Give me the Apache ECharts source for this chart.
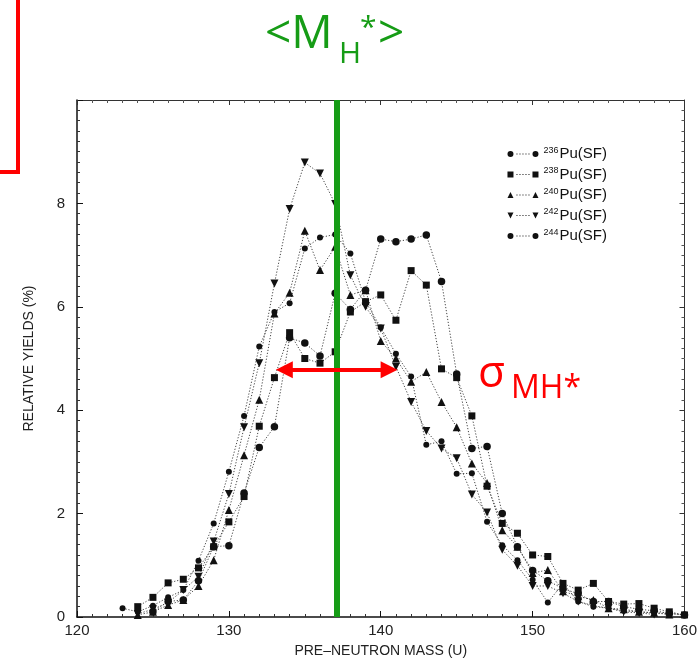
<!DOCTYPE html>
<html>
<head>
<meta charset="utf-8">
<script src="https://cdn.jsdelivr.net/npm/echarts@6/dist/echarts.min.js"></script>
<style>
  html, body { margin: 0; padding: 0; background: #fff; }
  #chart { width: 700px; height: 663px; }
</style>
</head>
<body>
<div id="chart"></div>
<script>
// Pre-neutron heavy-fragment mass yields for spontaneous fission of Pu isotopes
const masses = [123,124,125,126,127,128,129,130,131,132,133,134,135,136,137,138,139,140,141,
                142,143,144,145,146,147,148,149,150,151,152,153,154,155,156,157,158,159,160];

const pu236 = [0.17,0.10,0.22,0.38,0.52,1.09,1.81,2.81,3.89,5.23,5.90,6.07,7.13,7.34,7.40,7.03,6.10,5.60,5.09,
               4.65,3.33,3.40,2.77,2.78,1.84,1.39,1.10,0.72,0.28,0.65,0.30,0.20,0.17,0.12,0.10,0.08,0.07,0.04];
const pu238 = [null,0.20,0.38,0.66,0.73,0.95,1.36,1.84,2.33,3.69,4.63,5.50,5.00,4.91,5.13,5.90,6.10,6.23,5.74,
               6.70,6.42,4.80,4.63,3.89,2.53,1.81,1.62,1.20,1.17,0.65,0.52,0.65,0.30,0.25,0.26,0.17,0.10,0.04];
const pu240 = [null,0.04,0.10,0.23,0.33,0.60,1.10,2.07,3.13,4.20,5.87,6.27,7.47,6.71,7.16,6.23,6.32,5.34,5.00,
               4.55,4.74,4.16,3.67,2.97,2.59,1.68,1.36,0.85,0.91,0.50,0.40,0.33,0.17,0.15,0.10,0.08,0.05,null];
const pu242 = [null,0.06,0.15,0.28,0.52,0.78,1.46,2.38,3.67,4.91,6.45,7.89,8.79,8.58,7.99,6.61,6.00,5.58,4.84,
               4.16,3.60,3.26,3.07,2.37,2.02,1.30,0.99,0.60,0.60,0.46,0.30,0.22,0.17,0.10,0.08,0.05,null,null];
const pu244 = [null,null,0.10,0.30,0.33,0.70,1.36,1.38,2.40,3.28,3.68,5.40,5.30,5.05,6.26,5.95,6.32,7.31,7.26,
               7.31,7.39,6.49,4.70,3.26,3.30,2.00,1.36,0.90,0.70,0.55,0.45,0.30,0.30,0.20,0.15,0.12,0.07,0.04];

const seriesNames = ['236Pu(SF)','238Pu(SF)','240Pu(SF)','242Pu(SF)','244Pu(SF)'];
const xTicks = [120,130,140,150,160];
const yTicks = [0,2,4,6,8];

// Mean heavy-fragment mass and width marker
const meanHeavyMass = 137.1;
const widthHalfSpan = 3.45;
const widthLevel = 4.78;

const pairs = ys => masses.map((m, i) => [m, ys[i]]);

const dots = ' M9,2.6h1v0.8h-1z M12,2.6h1v0.8h-1z M15,2.6h1v0.8h-1z M18,2.6h1v0.8h-1z M21,2.6h1v0.8h-1z ';
const legendIcons = {
  circle: 'path://M0,3a3,3 0 1,0 6,0a3,3 0 1,0 -6,0z' + dots + 'M25,3a3,3 0 1,0 6,0a3,3 0 1,0 -6,0z',
  square: 'path://M0,0h6v6h-6z' + dots + 'M25,0h6v6h-6z',
  up:     'path://M0,6L3,0L6,6z' + dots + 'M25,6L28,0L31,6z',
  down:   'path://M0,0L6,0L3,6z' + dots + 'M25,0L31,0L28,6z'
};
const iconKinds = ['circle','square','up','down','circle'];

const ink = '#111';
const green = '#169c16';
const red = '#ff0000';

function curve(name, ys, symbol, size, rotate) {
  return {
    name, type: 'line', data: pairs(ys),
    symbol, symbolSize: size, symbolRotate: rotate || 0,
    connectNulls: false,
    itemStyle: { color: ink },
    lineStyle: { color: '#444', width: 1, type: [1.2, 1.8] },
    z: 3
  };
}

const series = [
  curve(seriesNames[0], pu236, 'circle', 6),
  curve(seriesNames[1], pu238, 'rect', 7),
  curve(seriesNames[2], pu240, 'triangle', 8),
  curve(seriesNames[3], pu242, 'triangle', 8, 180),
  curve(seriesNames[4], pu244, 'circle', 7.5),
  {
    name: 'marks', type: 'line', data: [], silent: true,
    markLine: {
      silent: true, animation: false,
      symbol: ['none', 'none'],
      data: [
        { xAxis: meanHeavyMass,
          lineStyle: { color: green, width: 6, type: 'solid' }, label: { show: false } },
        [ { coord: [meanHeavyMass - widthHalfSpan, widthLevel], symbol: 'triangle', symbolSize: 17 },
          { coord: [meanHeavyMass + widthHalfSpan, widthLevel], symbol: 'triangle', symbolSize: 17,
            lineStyle: { color: red, width: 4, type: 'solid' }, label: { show: false } } ]
      ],
      lineStyle: { color: red, width: 4, type: 'solid' },
      itemStyle: { color: red },
      label: { show: false }
    },
    z: 5
  }
];

const axisFont = 'Liberation Sans';

const chart = echarts.init(document.getElementById('chart'), null, { renderer: 'canvas' });
chart.setOption({
  animation: false,
  backgroundColor: '#fff',
  grid: { left: 77, right: 14, top: 100, bottom: 46 },
  legend: {
    orient: 'vertical', right: 88, top: 141, itemGap: 5,
    itemWidth: 31, itemHeight: 6,
    data: seriesNames.map((n, i) => ({ name: n, icon: legendIcons[iconKinds[i]] })),
    formatter: n => '{sup|' + n.slice(0, 3) + '}{txt|' + n.slice(3) + '}',
    textStyle: {
      color: '#111', fontFamily: axisFont,
      rich: {
        sup: { fontSize: 9, verticalAlign: 'top', padding: [0, 1, 7, 0], fontFamily: axisFont },
        txt: { fontSize: 15, fontFamily: axisFont }
      }
    },
    itemStyle: { color: ink }
  },
  xAxis: [
    {
      type: 'value', min: 120, max: 160, interval: 10, position: 'bottom',
      name: 'PRE\u2013NEUTRON MASS (U)', nameLocation: 'middle', nameGap: 27,
      nameTextStyle: { fontSize: 14, color: '#222', fontFamily: axisFont },
      axisLine: { show: true, onZero: false, lineStyle: { color: '#111', width: 1.5 } },
      axisTick: { inside: true, length: 6, lineStyle: { color: '#111' } },
      minorTick: { show: true, splitNumber: 10, length: 3, lineStyle: { color: '#333' } },
      axisLabel: { fontSize: 15, color: '#222', fontFamily: axisFont, margin: 6,
                   formatter: v => xTicks.includes(v) ? String(v) : '' },
      splitLine: { show: false }
    },
    {
      type: 'value', min: 120, max: 160, interval: 10, position: 'top',
      axisLine: { show: true, onZero: false, lineStyle: { color: '#333', width: 1 } },
      axisTick: { inside: true, length: 5, lineStyle: { color: '#333' } },
      minorTick: { show: true, splitNumber: 10, length: 3, lineStyle: { color: '#555' } },
      axisLabel: { show: false }, splitLine: { show: false }
    }
  ],
  yAxis: [
    {
      type: 'value', min: 0, max: 10, interval: 2, position: 'left',
      name: 'RELATIVE YIELDS (%)', nameLocation: 'middle', nameGap: 41,
      nameTextStyle: { fontSize: 14, color: '#222', fontFamily: axisFont },
      axisLine: { show: true, onZero: false, lineStyle: { color: '#111', width: 1.5 } },
      axisTick: { inside: true, length: 6, lineStyle: { color: '#111' } },
      minorTick: { show: true, splitNumber: 10, length: 3, lineStyle: { color: '#333' } },
      axisLabel: { fontSize: 15, color: '#222', fontFamily: axisFont, margin: 12,
                   formatter: v => yTicks.includes(v) ? String(v) : '' },
      splitLine: { show: false }
    },
    {
      type: 'value', min: 0, max: 10, interval: 2, position: 'right',
      axisLine: { show: true, onZero: false, lineStyle: { color: '#333', width: 1 } },
      axisTick: { inside: true, length: 5, lineStyle: { color: '#333' } },
      minorTick: { show: true, splitNumber: 10, length: 3, lineStyle: { color: '#555' } },
      axisLabel: { show: false }, splitLine: { show: false }
    }
  ],
  series,
  graphic: [
    // framed box at the upper-left corner
    { type: 'rect', shape: { x: -4, y: -4, width: 22, height: 176 },
      style: { fill: 'none', stroke: red, lineWidth: 4 } },
    // <M_H*> label above the mean line
    { type: 'text', x: 265, y: 35,
      style: { text: '<M', font: '46px "Open Sans"', fill: green, textVerticalAlign: 'middle' } },
    { type: 'text', x: 339, y: 54,
      style: { text: 'H', font: '30px "Open Sans"', fill: green, textVerticalAlign: 'middle' } },
    { type: 'text', x: 360, y: 28,
      style: { text: '*', font: '30px "Open Sans"', fill: green, textVerticalAlign: 'middle' } },
    { type: 'text', x: 378, y: 35,
      style: { text: '>', font: '46px "Open Sans"', fill: green, textVerticalAlign: 'middle' } },
    // sigma label next to the width arrow
    { type: 'text', x: 478, y: 374,
      style: { text: '\u03c3', font: '44px "Open Sans"', fill: red, textVerticalAlign: 'middle' } },
    { type: 'text', x: 511, y: 389,
      style: { text: 'MH*', font: '32px "Open Sans"', fill: red, textVerticalAlign: 'middle' } }
  ]
});
</script>
</body>
</html>
